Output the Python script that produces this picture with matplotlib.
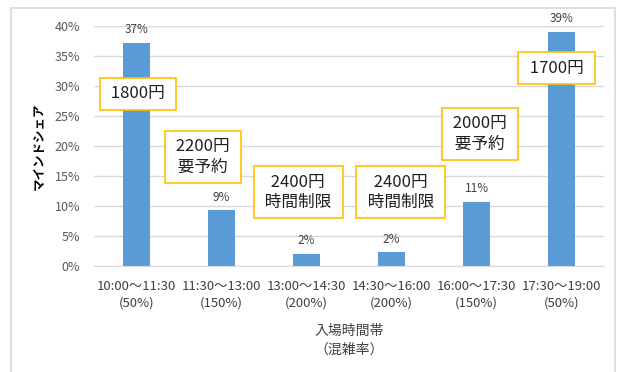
import matplotlib
matplotlib.use('Agg')
import matplotlib.pyplot as plt
from matplotlib.patches import Rectangle

plt.rcParams['font.family'] = ['Noto Sans CJK JP', 'DejaVu Sans']

## Données
creneaux = ['10:00～11:30\n(50%)', '11:30～13:00\n(150%)', '13:00～14:30\n(200%)',
            '14:30～16:00\n(200%)', '16:00～17:30\n(150%)', '17:30～19:00\n(50%)']
part = [37.2, 9.3, 2.0, 2.3, 10.7, 39.0]
etiquettes = ['37%', '9%', '2%', '2%', '11%', '39%']
tarifs = ['1800円', '2200円\n要予約', '2400円\n時間制限', '2400円\n時間制限', '2000円\n要予約', '1700円']
# position des encadrés (indice de créneau, %)
tarif_x = [0.02, 0.78, 1.9, 3.11, 4.04, 4.94]
tarif_y = [28.7, 18.2, 12.3, 12.3, 22.0, 33.0]

fig = plt.figure(figsize=(6.21, 3.72), dpi=100)
ax = fig.add_axes([94/621, 1-266/372, 510/621, 240/372])

# cadre gris autour du graphique
fig.patches.append(Rectangle((11/621, -0.1), 604/621, 1.1-8/372, transform=fig.transFigure,
                             fill=False, edgecolor='#d9d9d9', linewidth=1.2))

x = range(len(part))
ax.bar(x, part, width=0.31, color='#5B9BD5', zorder=2)
for i in x:
    ax.text(i, part[i] + 1.1, etiquettes[i], ha='center', va='bottom', fontsize=8.5, color='#404040')

for i in range(len(tarifs)):
    ax.text(tarif_x[i], tarif_y[i], ' ' + tarifs[i].replace('\n', ' \n ') + ' ', ha='center', va='center',
            fontsize=12, color='#202020', zorder=5, linespacing=1.25,
            bbox=dict(boxstyle='square,pad=0.45', facecolor='white', edgecolor='#FFC000', linewidth=1.2))

ax.set_xlim(-0.5, 5.5)
ax.set_ylim(0, 40)
ax.set_yticks(range(0, 41, 5))
ax.set_yticklabels(['%d%%' % v for v in range(0, 41, 5)])
ax.set_xticks(list(x))
ax.set_xticklabels(creneaux, fontsize=9.5, color='#404040', linespacing=1.4)
ax.tick_params(axis='y', labelsize=9, labelcolor='#595959', length=0, pad=10)
ax.tick_params(axis='x', length=0, pad=10)
ax.grid(axis='y', color='#d9d9d9', linewidth=1, zorder=0)
ax.set_axisbelow(True)
for s in ['top', 'right', 'left']:
    ax.spines[s].set_visible(False)
ax.spines['bottom'].set_color('#d9d9d9')

ax.set_xlabel('入場時間帯\n（混雑率）', fontsize=10, color='#404040', labelpad=10, linespacing=1.4)
ax.set_ylabel('マインドシェア', fontsize=9, fontweight='bold', color='black', labelpad=6)

plt.savefig('out.png')
